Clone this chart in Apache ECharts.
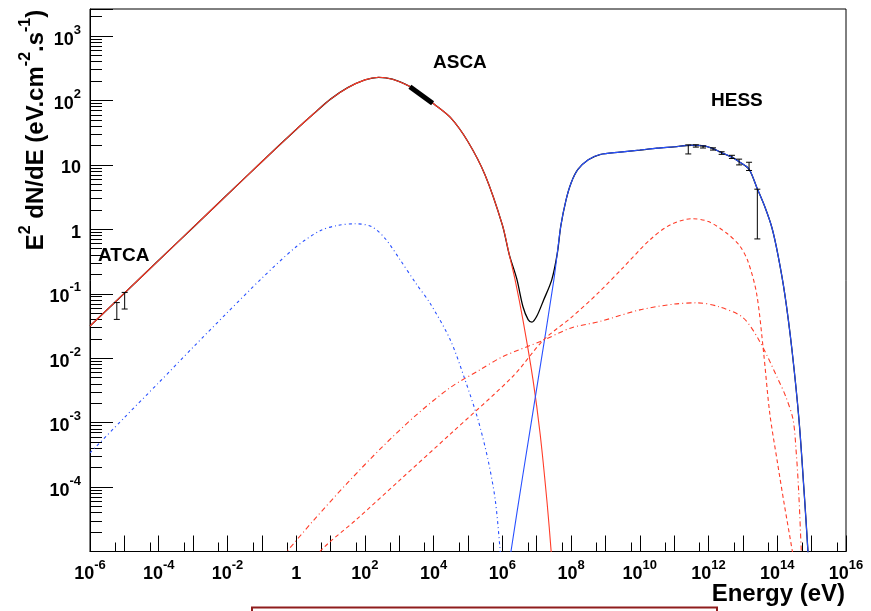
<!DOCTYPE html>
<html>
<head>
<meta charset="utf-8">
<script src="https://cdn.jsdelivr.net/npm/echarts@6/dist/echarts.min.js"></script>
<style>
  html, body { margin: 0; padding: 0; background: #fff; }
  #chart { width: 871px; height: 611px; }
</style>
</head>
<body>
<div id="chart"></div>
<script>
// Spectral energy distribution: [energy (eV), E^2 dN/dE (eV cm^-2 s^-1)]

// primary synchrotron component (red, solid)
const syncCurve = [
  [1e-6, 0.0316], [1e-5, 0.102], [1e-4, 0.331], [1e-3, 1.07], [1e-2, 3.47],
  [0.1, 11.2], [1, 35.5], [3.16, 61.7], [10, 105], [31.6, 158], [100, 209],
  [251, 229], [631, 214], [2.0e3, 166], [3.98e3, 132], [1e4, 89.1],
  [3.16e4, 53.7], [1e5, 22.9], [3.16e5, 6.92], [1e6, 1.17], [1.58e6, 0.41],
  [2.34e6, 0.166], [3.98e6, 0.0389], [7.76e6, 0.00468], [1.26e7, 6.6e-4],
  [2.0e7, 5.75e-5], [2.63e7, 1e-5], [3.16e7, 2.5e-6]
];

// inverse Compton component (blue, solid)
const icCurve = [
  [1.41e6, 4e-6], [1.78e6, 1e-5], [3.98e6, 1.58e-4], [1.1e7, 4.68e-3],
  [3.16e7, 0.166], [5.01e7, 1.12], [7.08e7, 2.82], [1e8, 5.25], [1.58e8, 8.5],
  [3.16e8, 12.0], [6.92e8, 14.5], [2.63e9, 15.8], [1e10, 17.0], [3.16e10, 18.2],
  [1e11, 19.1], [3.16e11, 20.2], [6.31e11, 20.0], [1.26e12, 18.2],
  [2.4e12, 15.5], [4.79e12, 13.2], [7.76e12, 11.2], [1.5e13, 8.63],
  [2.57e13, 4.38], [4.37e13, 2.22], [7.02e13, 1.05], [1.05e14, 0.398],
  [1.67e14, 0.0955], [2.68e14, 0.0134], [4.29e14, 1.1e-3], [6.0e14, 8.9e-5],
  [7.83e14, 9.8e-6], [8.91e14, 2.5e-6]
];

// sum of the components across the gap between the two humps (black)
const totalGap = [
  [2.63e6, 0.17], [3.98e6, 0.063], [5.62e6, 0.0398], [7.24e6, 0.0363],
  [1e7, 0.0447], [1.58e7, 0.0794], [2.75e7, 0.166], [3.98e7, 0.427]
];

// secondary-electron synchrotron (blue, dash-dot)
const secSyncCurve = [
  [1e-6, 3.39e-4], [1e-5, 1.2e-3], [1e-4, 4.17e-3], [1e-3, 0.0148],
  [1e-2, 0.0513], [0.1, 0.174], [1, 0.537], [5.01, 0.955], [15.8, 1.15],
  [50.1, 1.22], [158, 1.1], [398, 0.708], [1.05e3, 0.339], [3.16e3, 0.141],
  [7.94e3, 0.0708], [3.02e4, 0.0195], [8.13e4, 4.68e-3], [1.95e5, 1.12e-3],
  [3.8e5, 2.69e-4], [6.17e5, 6.46e-5], [8.51e5, 1.12e-5], [1e6, 3.2e-6]
];

// neutral pion decay (red, dashed)
const pionCurve = [
  [3.55, 6.3e-6], [4.9, 1e-5], [57.5, 3.16e-5], [1e3, 1.26e-4],
  [3.16e4, 6.76e-4], [2.04e6, 5.25e-3], [1.55e7, 0.019], [1e8, 0.0427],
  [6.03e8, 0.102], [3.16e9, 0.251], [2e10, 0.692], [7.59e10, 1.17],
  [3.31e11, 1.46], [1e12, 1.32], [3.39e12, 0.871], [7.94e12, 0.562],
  [1.41e13, 0.316], [2.51e13, 0.1], [3.98e13, 0.0126], [6.03e13, 1.41e-3],
  [1e14, 2.5e-4], [1.58e14, 5.6e-5], [2.75e14, 1e-5], [3.16e14, 6e-6]
];

// bremsstrahlung (red, dash-dot)
const bremCurve = [
  [0.398, 8.3e-6], [0.537, 1e-5], [3.16, 3.02e-5], [31.6, 1.17e-4],
  [316, 4.17e-4], [3.16e3, 1.32e-3], [3.16e4, 3.55e-3], [2.24e5, 6.61e-3],
  [1e6, 0.0105], [1.55e7, 0.019], [1e8, 0.0295], [6.92e8, 0.0372],
  [1e10, 0.0562], [1e11, 0.0692], [4.68e11, 0.0724], [2e12, 0.063],
  [1e13, 0.0427], [3.16e13, 0.0178], [1e14, 5.01e-3], [1.78e14, 2.51e-3],
  [2.88e14, 1.12e-3], [3.55e14, 3.55e-4], [4.17e14, 9.1e-5], [5.01e14, 1e-5],
  [5.62e14, 2.5e-6]
];

// measurements: [energy, flux, low, high]
const atcaPoints = [
  [6.03e-6, 0.054, 0.040, 0.073],
  [1.02e-5, 0.078, 0.058, 0.105]
];
const hessPoints = [
  [2.57e11, 17.4, 14.8, 20.4], [4.27e11, 19.7, 18.9, 20.5],
  [6.92e11, 19.0, 18.3, 19.7], [1.35e12, 17.7, 17.0, 18.4],
  [2.4e12, 15.3, 14.6, 16.0], [4.79e12, 13.3, 12.6, 14.1],
  [7.76e12, 11.1, 10.0, 12.3], [1.51e13, 9.5, 8.2, 11.0],
  [2.63e13, 2.0, 0.71, 4.2]
];
// X-ray band (thick segment)
const ascaBand = [[2.04e3, 164], [9.33e3, 90.6]];

// axis ranges
const xRange = [1e-6, 1e16];
const yRange = [1e-5, 2630];

// full model sum: synchrotron on the left, gap, IC on the right
const totalCurve = syncCurve.filter(p => p[0] < 2.0e6)
  .concat(totalGap)
  .concat(icCurve.filter(p => p[0] > 4.5e7));

const FONT = 'Liberation Sans, Arial, Helvetica, sans-serif';

function powerLabel(v, skipOdd) {
  const e = Math.round(Math.log10(v));
  if (Math.abs(Math.log10(v) - e) > 1e-6) return '';
  if (skipOdd && Math.abs(e) % 2 === 1) return '';
  if (e === 0) return '{b|1}';
  if (e === 1) return '{b|10}';
  return '{b|10}{s|' + e + '}';
}

const labelRich = {
  b: { fontFamily: FONT, fontWeight: 'bold', fontSize: 18, color: '#000', lineHeight: 25, verticalAlign: 'bottom' },
  s: { fontFamily: FONT, fontWeight: 'bold', fontSize: 13, color: '#000', verticalAlign: 'top' }
};

function errorBars(params, api) {
  const x = api.value(0);
  const top = api.coord([x, api.value(3)]);
  const bot = api.coord([x, api.value(2)]);
  const cap = 3;
  const st = { stroke: '#000', lineWidth: 1 };
  return {
    type: 'group',
    children: [
      { type: 'line', shape: { x1: top[0], y1: top[1], x2: bot[0], y2: bot[1] }, style: st },
      { type: 'line', shape: { x1: top[0] - cap, y1: top[1], x2: top[0] + cap, y2: top[1] }, style: st },
      { type: 'line', shape: { x1: bot[0] - cap, y1: bot[1], x2: bot[0] + cap, y2: bot[1] }, style: st }
    ]
  };
}

function curve(name, data, color, width, type, z) {
  return {
    name, type: 'line', data, showSymbol: false, smooth: 0.3, z,
    lineStyle: { color, width, type },
    clip: true, silent: true
  };
}

const chart = echarts.init(document.getElementById('chart'), null, { renderer: 'canvas' });

chart.setOption({
  animation: false,
  backgroundColor: '#fff',
  grid: { left: 90, top: 9, right: 25, bottom: 59.5, show: true, borderColor: '#000', borderWidth: 1, backgroundColor: 'transparent' },
  xAxis: {
    type: 'log', logBase: 10, min: xRange[0], max: xRange[1], interval: 1, splitNumber: 22,
    axisLine: { show: true, onZero: false, lineStyle: { color: '#000', width: 1 } },
    axisTick: { show: true, inside: true, length: 16, lineStyle: { color: '#000', width: 1 } },
    minorTick: { show: true, splitNumber: 2, length: 9, lineStyle: { color: '#000', width: 1 } },
    splitLine: { show: false },
    axisLabel: { margin: 7, formatter: v => powerLabel(v, true), rich: labelRich, showMinLabel: true, showMaxLabel: true, hideOverlap: false }
  },
  yAxis: {
    type: 'log', logBase: 10, min: yRange[0], max: yRange[1], interval: 1, splitNumber: 9,
    axisLine: { show: true, onZero: false, lineStyle: { color: '#000', width: 1 } },
    axisTick: { show: true, inside: true, length: 23, lineStyle: { color: '#000', width: 1 } },
    minorTick: { show: true, splitNumber: 9, length: 12, lineStyle: { color: '#000', width: 1 } },
    splitLine: { show: false },
    axisLabel: { margin: 9, formatter: v => powerLabel(v, false), rich: labelRich, showMinLabel: false, hideOverlap: false }
  },
  series: [
    curve('total', totalCurve, '#000', 1.3, 'solid', 2),
    curve('synchrotron', syncCurve, '#ff3c28', 1.1, 'solid', 3),
    curve('inverse Compton', icCurve, '#2850ff', 1.1, 'solid', 3),
    curve('secondary synchrotron', secSyncCurve, '#2850ff', 1.1, [3, 3, 1, 3], 3),
    curve('pion decay', pionCurve, '#ff3c28', 1.1, [4, 3], 3),
    curve('bremsstrahlung', bremCurve, '#ff3c28', 1.1, [5, 3, 1, 3], 3),
    {
      name: 'ASCA', type: 'line', data: ascaBand, showSymbol: false, z: 5,
      lineStyle: { color: '#000', width: 5, cap: 'butt' }, silent: true
    },
    {
      name: 'ATCA', type: 'custom', data: atcaPoints, renderItem: errorBars, z: 6,
      encode: { x: 0, y: [1, 2, 3] }, silent: true
    },
    {
      name: 'HESS', type: 'custom', data: hessPoints, renderItem: errorBars, z: 6,
      encode: { x: 0, y: [1, 2, 3] }, silent: true
    }
  ],
  graphic: [
    { type: 'text', left: 98, top: 246, style: { text: 'ATCA', font: 'bold 19px ' + FONT, fill: '#000' } },
    { type: 'text', left: 433, top: 53, style: { text: 'ASCA', font: 'bold 19px ' + FONT, fill: '#000' } },
    { type: 'text', left: 711, top: 91, style: { text: 'HESS', font: 'bold 19px ' + FONT, fill: '#000' } },
    {
      type: 'text', x: 845, y: 594,
      style: { text: 'Energy (eV)', font: 'bold 24px ' + FONT, fill: '#000', align: 'right', verticalAlign: 'middle' }
    },
    {
      type: 'text', x: 33, y: 130, rotation: Math.PI / 2,
      style: {
        text: '{a|E}{s|2}{a| dN/dE (eV.cm}{s|-2}{a|.s}{s|-1}{a|)}',
        align: 'center', verticalAlign: 'middle',
        rich: {
          a: { fontFamily: FONT, fontWeight: 'bold', fontSize: 24, fill: '#000', lineHeight: 31, verticalAlign: 'bottom' },
          s: { fontFamily: FONT, fontWeight: 'bold', fontSize: 16, fill: '#000', verticalAlign: 'top' }
        }
      }
    },
    {
      type: 'rect', shape: { x: 252, y: 607.5, width: 465, height: 20 },
      style: { fill: '#fff', stroke: '#8f1d1d', lineWidth: 2 }
    }
  ]
});
</script>
</body>
</html>
